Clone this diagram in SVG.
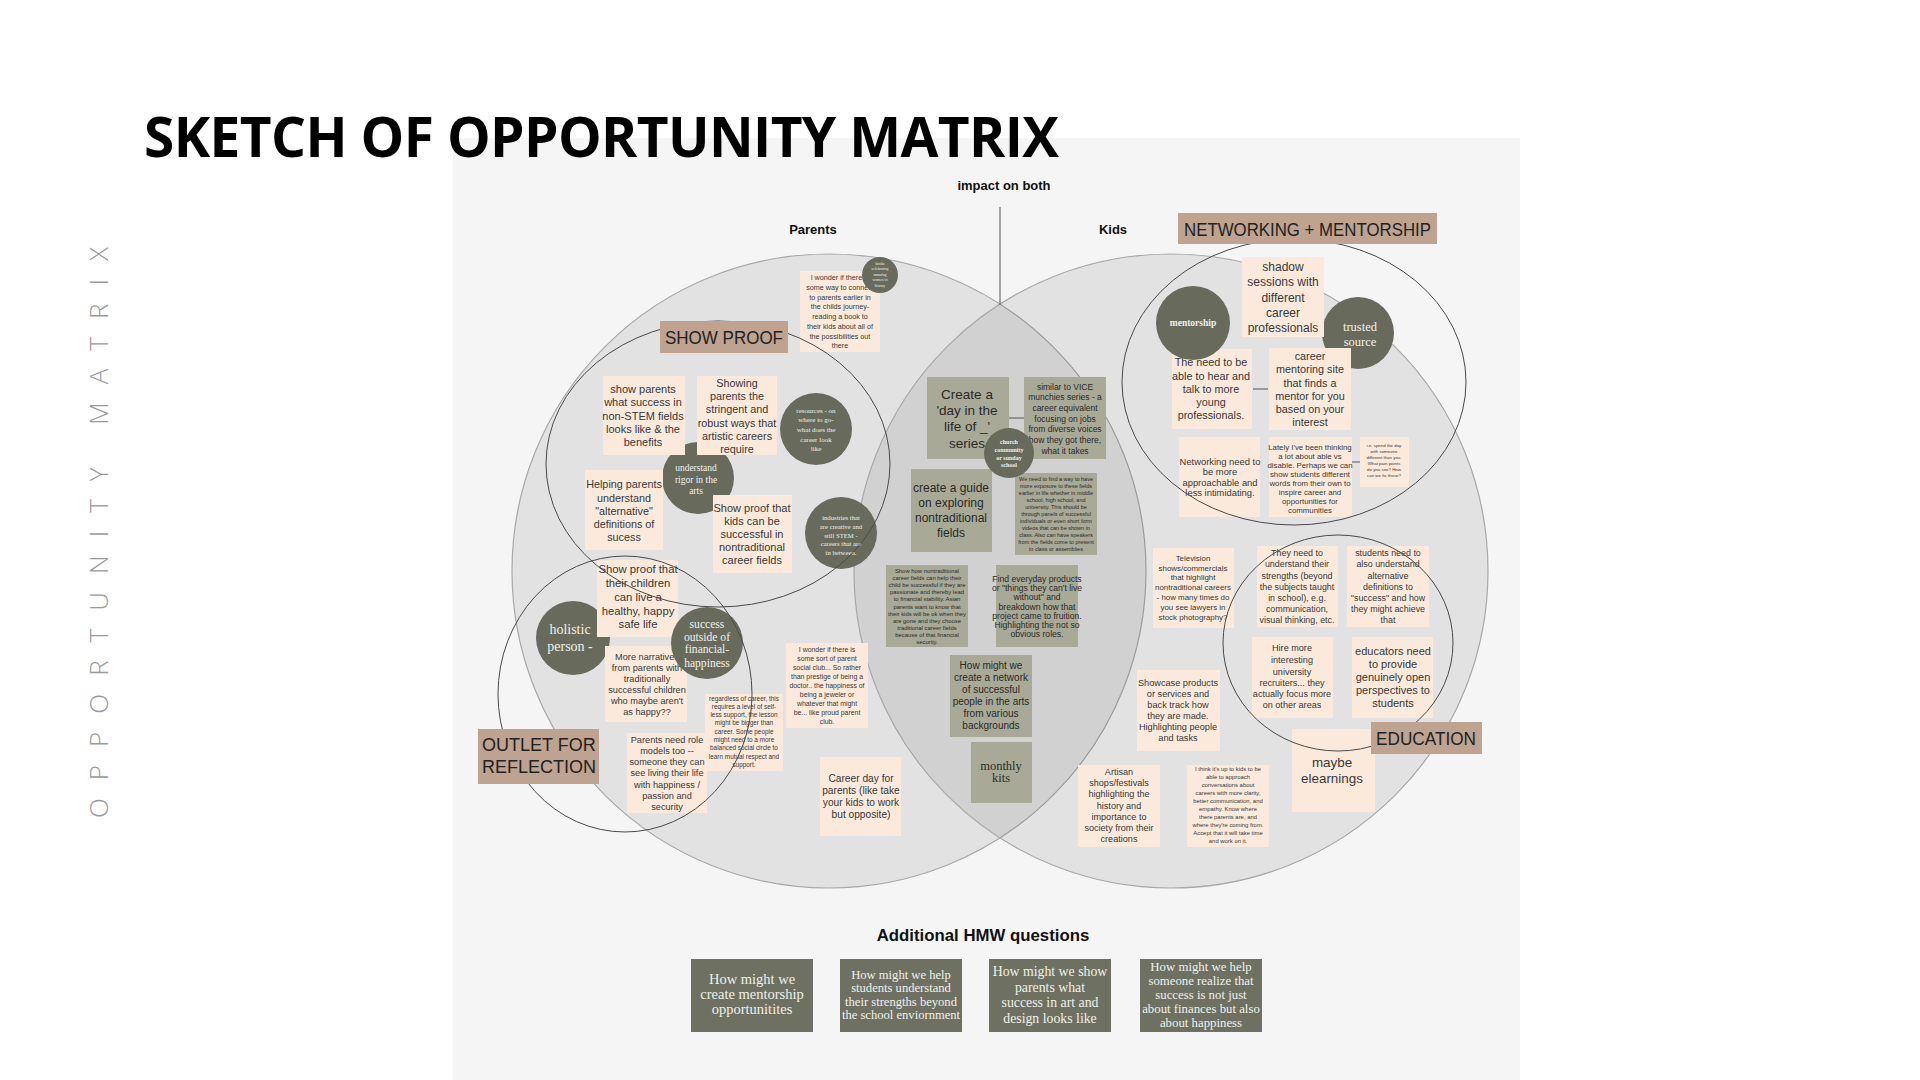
<svg xmlns="http://www.w3.org/2000/svg" width="1920" height="1080" viewBox="0 0 1920 1080">
<defs>
<style>
.bg{fill:#f5f5f5}
.venn{fill:#000;fill-opacity:0.075;stroke:#a8a8a8;stroke-width:1.2}
.ring{fill:none;stroke:#4a4a4a;stroke-width:1}
.cream{fill:#fbeadb}
.olive{fill:#a8a996}
.dot{fill:#686b5c}
.tag{fill:#bea390}
.hmw{fill:#6e7062}
.t{font-family:"Liberation Sans",Arial,sans-serif;fill:#383838;text-anchor:middle}
.to{font-family:"Liberation Sans",Arial,sans-serif;fill:#2a2a2a;text-anchor:middle}
.s{font-family:"Liberation Serif","DejaVu Serif",serif;fill:#f0f0ea;text-anchor:middle}
.lab{font-family:"Liberation Sans",Arial,sans-serif;fill:#222;font-size:18px}
.hd{font-family:"Liberation Sans",Arial,sans-serif;fill:#111;font-weight:bold;text-anchor:middle}
.conn{stroke:#555;stroke-width:1;fill:none}
</style>
</defs>
<rect width="1920" height="1080" fill="#ffffff"/>
<rect class="bg" x="453" y="138" width="1067" height="942"/>

<text x="144" y="157" font-family="'Open Sans','DejaVu Sans',sans-serif" font-weight="bold" font-size="55" fill="#000" textLength="915" lengthAdjust="spacing">SKETCH OF OPPORTUNITY MATRIX</text>
<text transform="translate(108,818) rotate(-90)" font-family="'Open Sans','DejaVu Sans',sans-serif" font-weight="300" font-size="26" fill="#9a9a9a" textLength="571" lengthAdjust="spacing">OPPORTUNITY MATRIX</text>

<g id="venn">
<circle class="venn" cx="829" cy="571" r="317"/>
<circle class="venn" cx="1171" cy="571" r="317"/>
</g>

<text class="hd" x="1004" y="190" font-size="13">impact on both</text>
<text class="hd" x="813" y="234" font-size="13">Parents</text>
<text class="hd" x="1113" y="234" font-size="13">Kids</text>

<!-- circles behind notes -->
<g id="c-rigor"><circle class="dot" cx="698" cy="478" r="36"/>
<text class="s" font-size="9.5"><tspan x="696" y="471">understand</tspan><tspan x="696" y="483">rigor in the</tspan><tspan x="696" y="494">arts</tspan></text></g>
<g id="c-holistic"><circle class="dot" cx="573" cy="638" r="37"/>
<text class="s" font-size="14"><tspan x="570" y="634">holistic</tspan><tspan x="570" y="651">person -</tspan></text></g>
<g id="c-trusted"><circle class="dot" cx="1358" cy="333" r="36"/>
<text class="s" font-size="12.5"><tspan x="1360" y="331">trusted</tspan><tspan x="1360" y="346">source</tspan></text></g>

<!-- Parents notes -->
<g id="n-wonder1"><rect class="cream" x="800" y="271" width="80" height="81"/>
<text class="t" font-size="7.2"><tspan x="840" y="280">I wonder if there is</tspan><tspan x="840" y="290">some way to connect</tspan><tspan x="840" y="300">to parents earlier in</tspan><tspan x="840" y="309">the childs journey-</tspan><tspan x="840" y="319">reading a book to</tspan><tspan x="840" y="329">their kids about all of</tspan><tspan x="840" y="339">the possibilities out</tspan><tspan x="840" y="348">there</tspan></text></g>
<g id="n-showparents"><rect class="cream" x="603" y="376" width="82" height="79"/>
<text class="t" font-size="11"><tspan x="643" y="393">show parents</tspan><tspan x="643" y="406">what success in</tspan><tspan x="643" y="420">non-STEM fields</tspan><tspan x="643" y="433">looks like &amp; the</tspan><tspan x="643" y="446">benefits</tspan></text></g>
<g id="n-showing"><rect class="cream" x="697" y="376" width="80" height="79"/>
<text class="t" font-size="10.8"><tspan x="737" y="387">Showing</tspan><tspan x="737" y="400">parents the</tspan><tspan x="737" y="413">stringent and</tspan><tspan x="737" y="427">robust ways that</tspan><tspan x="737" y="440">artistic careers</tspan><tspan x="737" y="453">require</tspan></text></g>
<g id="n-helping"><rect class="cream" x="585" y="470" width="78" height="80"/>
<text class="t" font-size="10.8"><tspan x="624" y="488">Helping parents</tspan><tspan x="624" y="502">understand</tspan><tspan x="624" y="515">"alternative"</tspan><tspan x="624" y="528">definitions of</tspan><tspan x="624" y="541">sucess</tspan></text></g>
<g id="n-proofkids"><rect class="cream" x="713" y="495" width="79" height="78"/>
<text class="t" font-size="11"><tspan x="752" y="512">Show proof that</tspan><tspan x="752" y="525">kids can be</tspan><tspan x="752" y="538">successful in</tspan><tspan x="752" y="551">nontraditional</tspan><tspan x="752" y="564">career fields</tspan></text></g>
<g id="n-proofchildren"><rect class="cream" x="597" y="560" width="81" height="77"/>
<text class="t" font-size="11.3"><tspan x="638" y="573">Show proof that</tspan><tspan x="638" y="587">their children</tspan><tspan x="638" y="601">can live a</tspan><tspan x="638" y="615">healthy, happy</tspan><tspan x="638" y="628">safe life</tspan></text></g>
<g id="n-narratives"><rect class="cream" x="605" y="646" width="82" height="76"/>
<text class="t" font-size="9.2"><tspan x="647" y="660">More narratives</tspan><tspan x="647" y="671">from parents with</tspan><tspan x="647" y="682">traditionally</tspan><tspan x="647" y="693">successful children</tspan><tspan x="647" y="704">who maybe aren't</tspan><tspan x="647" y="715">as happy??</tspan></text></g>
<g id="n-rolemodels"><rect class="cream" x="627" y="733" width="80" height="80"/>
<text class="t" font-size="9.2"><tspan x="667" y="743">Parents need role</tspan><tspan x="667" y="754">models too --</tspan><tspan x="667" y="765">someone they can</tspan><tspan x="667" y="776">see living their life</tspan><tspan x="667" y="788">with happiness /</tspan><tspan x="667" y="799">passion and</tspan><tspan x="667" y="810">security</tspan></text></g>
<g id="n-regardless"><rect class="cream" x="705" y="694" width="78" height="77"/>
<text class="t" font-size="6.4"><tspan x="744" y="701">regardless of career, this</tspan><tspan x="744" y="709">requires a level of self-</tspan><tspan x="744" y="717">less support, the lesson</tspan><tspan x="744" y="725">might be bigger than</tspan><tspan x="744" y="734">career. Some people</tspan><tspan x="744" y="742">might need to a more</tspan><tspan x="744" y="750">balanced social circle to</tspan><tspan x="744" y="759">learn mutual respect and</tspan><tspan x="744" y="767">support.</tspan></text></g>
<g id="n-wonder2"><rect class="cream" x="786" y="643" width="82" height="85"/>
<text class="t" font-size="6.9"><tspan x="827" y="652">I wonder if there is</tspan><tspan x="827" y="661">some sort of parent</tspan><tspan x="827" y="670">social club... So rather</tspan><tspan x="827" y="679">than prestige of being a</tspan><tspan x="827" y="688">doctor.. the happiness of</tspan><tspan x="827" y="697">being a jeweler or</tspan><tspan x="827" y="706">whatever that might</tspan><tspan x="827" y="715">be... like proud parent</tspan><tspan x="827" y="724">club.</tspan></text></g>
<g id="n-careerday"><rect class="cream" x="820" y="757" width="81" height="79"/>
<text class="t" font-size="10.2"><tspan x="861" y="782">Career day for</tspan><tspan x="861" y="794">parents (like take</tspan><tspan x="861" y="806">your kids to work</tspan><tspan x="861" y="818">but opposite)</tspan></text></g>

<!-- Center notes -->
<g id="n-dayinlife"><rect class="olive" x="927" y="377" width="82" height="82"/>
<text class="to" font-size="13.5"><tspan x="967" y="399">Create a</tspan><tspan x="967" y="415">'day in the</tspan><tspan x="967" y="431">life of _'</tspan><tspan x="967" y="448">series</tspan></text></g>
<g id="n-vice"><rect class="olive" x="1024" y="377" width="82" height="82"/>
<text class="to" font-size="8.5"><tspan x="1065" y="390">similar to VICE</tspan><tspan x="1065" y="400">munchies series - a</tspan><tspan x="1065" y="411">career equivalent</tspan><tspan x="1065" y="422">focusing on jobs</tspan><tspan x="1065" y="432">from diverse voices</tspan><tspan x="1065" y="443">how they got there,</tspan><tspan x="1065" y="454">what it takes</tspan></text></g>
<g id="n-guide"><rect class="olive" x="911" y="469" width="81" height="83"/>
<text class="to" font-size="12"><tspan x="951" y="492">create a guide</tspan><tspan x="951" y="507">on exploring</tspan><tspan x="951" y="522">nontraditional</tspan><tspan x="951" y="537">fields</tspan></text></g>
<g id="n-exposure"><rect class="olive" x="1015" y="473" width="82" height="82"/>
<text class="to" font-size="5.5"><tspan x="1056" y="481">We need to find a way to have</tspan><tspan x="1056" y="488">more exposure to these fields</tspan><tspan x="1056" y="495">earlier in life whether in middle</tspan><tspan x="1056" y="502">school, high school, and</tspan><tspan x="1056" y="509">university. This should be</tspan><tspan x="1056" y="516">through panels of successful</tspan><tspan x="1056" y="523">individuals or even short form</tspan><tspan x="1056" y="530">videos that can be shown in</tspan><tspan x="1056" y="537">class. Also can have speakers</tspan><tspan x="1056" y="544">from the fields come to present</tspan><tspan x="1056" y="551">in class or assemblies</tspan></text></g>
<g id="n-showhow"><rect class="olive" x="886" y="565" width="82" height="82"/>
<text class="to" font-size="5.9"><tspan x="927" y="573">Show how nontraditional</tspan><tspan x="927" y="580">career fields can help their</tspan><tspan x="927" y="587">child be successful if they are</tspan><tspan x="927" y="594">passionate and thereby lead</tspan><tspan x="927" y="601">to financial stability. Asian</tspan><tspan x="927" y="609">parents want to know that</tspan><tspan x="927" y="616">their kids will be ok when they</tspan><tspan x="927" y="623">are gone and they choose</tspan><tspan x="927" y="630">traditional career fields</tspan><tspan x="927" y="637">because of that financial</tspan><tspan x="927" y="644">security.</tspan></text></g>
<g id="n-everyday"><rect class="olive" x="996" y="565" width="82" height="82"/>
<text class="to" font-size="8.6"><tspan x="1037" y="582">Find everyday products</tspan><tspan x="1037" y="591">or "things they can't live</tspan><tspan x="1037" y="600">without" and</tspan><tspan x="1037" y="610">breakdown how that</tspan><tspan x="1037" y="619">project came to fruition.</tspan><tspan x="1037" y="628">Highlighting the not so</tspan><tspan x="1037" y="637">obvious roles.</tspan></text></g>
<g id="n-network"><rect class="olive" x="950" y="655" width="82" height="82"/>
<text class="to" font-size="10"><tspan x="991" y="669">How might we</tspan><tspan x="991" y="681">create a network</tspan><tspan x="991" y="693">of successful</tspan><tspan x="991" y="705">people in the arts</tspan><tspan x="991" y="717">from various</tspan><tspan x="991" y="729">backgrounds</tspan></text></g>
<g id="n-kits"><rect class="olive" x="971" y="742" width="61" height="61"/>
<text font-family="'Liberation Serif','DejaVu Serif',serif" font-size="12.5" fill="#2e2e2e" text-anchor="middle"><tspan x="1001" y="770">monthly</tspan><tspan x="1001" y="782">kits</tspan></text></g>

<!-- Kids notes -->
<g id="n-shadow"><rect class="cream" x="1242" y="257" width="82" height="80"/>
<text class="t" font-size="12"><tspan x="1283" y="271">shadow</tspan><tspan x="1283" y="286">sessions with</tspan><tspan x="1283" y="302">different</tspan><tspan x="1283" y="317">career</tspan><tspan x="1283" y="332">professionals</tspan></text></g>
<g id="n-theneed"><rect class="cream" x="1172" y="349" width="80" height="80"/>
<text class="t" font-size="10.8"><tspan x="1211" y="366">The need to be</tspan><tspan x="1211" y="380">able to hear and</tspan><tspan x="1211" y="393">talk to more</tspan><tspan x="1211" y="406">young</tspan><tspan x="1211" y="419">professionals.</tspan></text></g>
<g id="n-mentorsite"><rect class="cream" x="1269" y="348" width="82" height="82"/>
<text class="t" font-size="10.8"><tspan x="1310" y="360">career</tspan><tspan x="1310" y="373">mentoring site</tspan><tspan x="1310" y="387">that finds a</tspan><tspan x="1310" y="400">mentor for you</tspan><tspan x="1310" y="413">based on your</tspan><tspan x="1310" y="426">interest</tspan></text></g>
<g id="n-networking"><rect class="cream" x="1179" y="437" width="81" height="80"/>
<text class="t" font-size="9.4"><tspan x="1220" y="465">Networking need to</tspan><tspan x="1220" y="475">be more</tspan><tspan x="1220" y="486">approachable and</tspan><tspan x="1220" y="496">less intimidating.</tspan></text></g>
<g id="n-lately"><rect class="cream" x="1269" y="437" width="83" height="80"/>
<text class="t" font-size="7.8"><tspan x="1310" y="450">Lately I've been thinking</tspan><tspan x="1310" y="459">a lot about able vs</tspan><tspan x="1310" y="468">disable. Perhaps we can</tspan><tspan x="1310" y="477">show students different</tspan><tspan x="1310" y="486">words from their own to</tspan><tspan x="1310" y="495">inspire career and</tspan><tspan x="1310" y="504">opportunities for</tspan><tspan x="1310" y="513">communities</tspan></text></g>
<g id="n-ie"><rect class="cream" x="1360" y="437" width="49" height="50"/>
<text class="t" font-size="4.4"><tspan x="1384" y="447">i.e. spend the day</tspan><tspan x="1384" y="453">with someone</tspan><tspan x="1384" y="459">different than you.</tspan><tspan x="1384" y="465">What pain points</tspan><tspan x="1384" y="471">do you see? How</tspan><tspan x="1384" y="477">can we fix those?</tspan></text></g>
<g id="n-television"><rect class="cream" x="1153" y="548" width="81" height="80"/>
<text class="t" font-size="7.9"><tspan x="1193" y="561">Television</tspan><tspan x="1193" y="571">shows/commercials</tspan><tspan x="1193" y="580">that highlight</tspan><tspan x="1193" y="590">nontraditional careers</tspan><tspan x="1193" y="600">- how many times do</tspan><tspan x="1193" y="610">you see lawyers in</tspan><tspan x="1193" y="620">stock photography?</tspan></text></g>
<g id="n-strengths"><rect class="cream" x="1257" y="546" width="81" height="81"/>
<text class="t" font-size="8.9"><tspan x="1297" y="556">They need to</tspan><tspan x="1297" y="567">understand their</tspan><tspan x="1297" y="579">strengths (beyond</tspan><tspan x="1297" y="590">the subjects taught</tspan><tspan x="1297" y="601">in school), e.g.</tspan><tspan x="1297" y="612">communication,</tspan><tspan x="1297" y="623">visual thinking, etc.</tspan></text></g>
<g id="n-alternative"><rect class="cream" x="1347" y="546" width="82" height="81"/>
<text class="t" font-size="8.9"><tspan x="1388" y="556">students need to</tspan><tspan x="1388" y="567">also understand</tspan><tspan x="1388" y="579">alternative</tspan><tspan x="1388" y="590">definitions to</tspan><tspan x="1388" y="601">"success" and how</tspan><tspan x="1388" y="612">they might achieve</tspan><tspan x="1388" y="623">that</tspan></text></g>
<g id="n-recruiters"><rect class="cream" x="1252" y="637" width="81" height="81"/>
<text class="t" font-size="9.1"><tspan x="1292" y="651">Hire more</tspan><tspan x="1292" y="663">interesting</tspan><tspan x="1292" y="675">university</tspan><tspan x="1292" y="686">recruiters... they</tspan><tspan x="1292" y="697">actually focus more</tspan><tspan x="1292" y="708">on other areas</tspan></text></g>
<g id="n-educators"><rect class="cream" x="1352" y="637" width="81" height="81"/>
<text class="t" font-size="11"><tspan x="1393" y="655">educators need</tspan><tspan x="1393" y="668">to provide</tspan><tspan x="1393" y="681">genuinely open</tspan><tspan x="1393" y="694">perspectives to</tspan><tspan x="1393" y="707">students</tspan></text></g>
<g id="n-showcase"><rect class="cream" x="1137" y="670" width="83" height="81"/>
<text class="t" font-size="9.2"><tspan x="1178" y="686">Showcase products</tspan><tspan x="1178" y="697">or services and</tspan><tspan x="1178" y="708">back track how</tspan><tspan x="1178" y="719">they are made.</tspan><tspan x="1178" y="730">Highlighting people</tspan><tspan x="1178" y="741">and tasks</tspan></text></g>
<g id="n-artisan"><rect class="cream" x="1078" y="765" width="82" height="82"/>
<text class="t" font-size="9.1"><tspan x="1119" y="775">Artisan</tspan><tspan x="1119" y="786">shops/festivals</tspan><tspan x="1119" y="797">highlighting the</tspan><tspan x="1119" y="809">history and</tspan><tspan x="1119" y="820">importance to</tspan><tspan x="1119" y="831">society from their</tspan><tspan x="1119" y="842">creations</tspan></text></g>
<g id="n-ithink"><rect class="cream" x="1187" y="765" width="82" height="82"/>
<text class="t" font-size="5.9"><tspan x="1228" y="771">I think it's up to kids to be</tspan><tspan x="1228" y="779">able to approach</tspan><tspan x="1228" y="787">conversations about</tspan><tspan x="1228" y="795">careers with more clarity,</tspan><tspan x="1228" y="803">better communication, and</tspan><tspan x="1228" y="811">empathy. Know where</tspan><tspan x="1228" y="819">there parents are, and</tspan><tspan x="1228" y="827">where they're coming from.</tspan><tspan x="1228" y="835">Accept that it will take time</tspan><tspan x="1228" y="843">and work on it.</tspan></text></g>
<g id="n-elearnings"><rect class="cream" x="1292" y="729" width="83" height="83"/>
<text class="t" font-size="13.4"><tspan x="1332" y="767">maybe</tspan><tspan x="1332" y="783">elearnings</tspan></text></g>

<!-- circles in front of notes -->
<g id="c-books"><circle class="dot" cx="880" cy="275" r="18"/>
<text class="s" font-size="3.8"><tspan x="880" y="265">books</tspan><tspan x="880" y="270">celebrating</tspan><tspan x="880" y="275.5">amazing</tspan><tspan x="880" y="281">women in</tspan><tspan x="880" y="286.5">history</tspan></text></g>
<g id="c-resources"><circle class="dot" cx="816" cy="429" r="36"/>
<text class="s" font-size="7"><tspan x="816" y="412.5">resources - on</tspan><tspan x="816" y="421.5">where to go-</tspan><tspan x="816" y="431.5">what does the</tspan><tspan x="816" y="441.5">career look</tspan><tspan x="816" y="450.5">like</tspan></text></g>
<g id="c-industries"><circle class="dot" cx="841" cy="533" r="36"/>
<text class="s" font-size="6.7"><tspan x="841" y="519.5">industries that</tspan><tspan x="841" y="528.5">are creative and</tspan><tspan x="841" y="537.5">still STEM -</tspan><tspan x="841" y="546">careers that are</tspan><tspan x="841" y="555">in between.</tspan></text></g>
<g id="c-success"><circle class="dot" cx="707" cy="643" r="36"/>
<text class="s" font-size="11.6"><tspan x="707" y="628">success</tspan><tspan x="707" y="641">outside of</tspan><tspan x="707" y="653">financial-</tspan><tspan x="707" y="667">happiness</tspan></text></g>
<g id="c-church"><circle class="dot" cx="1009" cy="453" r="25"/>
<text class="s" font-size="6" font-weight="bold"><tspan x="1009" y="444">church</tspan><tspan x="1009" y="451.5">community</tspan><tspan x="1009" y="460">or sunday</tspan><tspan x="1009" y="467">school</tspan></text></g>
<g id="c-mentorship"><circle class="dot" cx="1193" cy="323" r="37"/>
<text class="s" font-size="9.5" font-weight="bold"><tspan x="1193" y="326">mentorship</tspan></text></g>

<!-- category rings -->
<g id="rings">
<ellipse class="ring" cx="718" cy="464" rx="172" ry="143"/>
<ellipse class="ring" cx="625" cy="694" rx="127" ry="138"/>
<ellipse class="ring" cx="1294" cy="382" rx="172" ry="143"/>
<ellipse class="ring" cx="1338" cy="643" rx="115" ry="108"/>
</g>

<!-- category labels -->
<g id="l-network"><rect class="tag" x="1178" y="213" width="259" height="31"/>
<text class="lab" x="1184" y="236" textLength="247" lengthAdjust="spacingAndGlyphs">NETWORKING + MENTORSHIP</text></g>
<g id="l-showproof"><rect class="tag" x="660" y="321" width="128" height="32"/>
<text class="lab" x="665" y="344" textLength="118" lengthAdjust="spacingAndGlyphs">SHOW PROOF</text></g>
<g id="l-outlet"><rect class="tag" x="478" y="729" width="121" height="55"/>
<text class="lab"><tspan x="482" y="751">OUTLET FOR</tspan><tspan x="482" y="773">REFLECTION</tspan></text></g>
<g id="l-education"><rect class="tag" x="1371" y="722" width="111" height="32"/>
<text class="lab" x="1376" y="745" textLength="100" lengthAdjust="spacingAndGlyphs">EDUCATION</text></g>

<!-- connectors -->
<g id="connectors">
<line class="conn" x1="1000" y1="207" x2="1000" y2="305"/>
<line class="conn" x1="1009" y1="418" x2="1024" y2="418"/>
<line class="conn" x1="1253" y1="389" x2="1268" y2="389"/>
<line class="conn" x1="1352" y1="462" x2="1360" y2="462"/>
</g>

<!-- HMW -->
<text class="hd" x="983" y="941" font-size="16.8">Additional HMW questions</text>
<g id="hmw1"><rect class="hmw" x="691" y="959" width="122" height="73"/>
<text class="s" font-size="14.5"><tspan x="752" y="984">How might we</tspan><tspan x="752" y="999">create mentorship</tspan><tspan x="752" y="1014">opportunitites</tspan></text></g>
<g id="hmw2"><rect class="hmw" x="840" y="959" width="122" height="73"/>
<text class="s" font-size="12.6"><tspan x="901" y="979">How might we help</tspan><tspan x="901" y="992">students understand</tspan><tspan x="901" y="1006">their strengths beyond</tspan><tspan x="901" y="1019">the school enviornment</tspan></text></g>
<g id="hmw3"><rect class="hmw" x="989" y="959" width="122" height="73"/>
<text class="s" font-size="13.8"><tspan x="1050" y="976">How might we show</tspan><tspan x="1050" y="992">parents what</tspan><tspan x="1050" y="1007">success in art and</tspan><tspan x="1050" y="1023">design looks like</tspan></text></g>
<g id="hmw4"><rect class="hmw" x="1140" y="959" width="122" height="73"/>
<text class="s" font-size="12.8"><tspan x="1201" y="971">How might we help</tspan><tspan x="1201" y="985">someone realize that</tspan><tspan x="1201" y="999">success is not just</tspan><tspan x="1201" y="1013">about finances but also</tspan><tspan x="1201" y="1027">about happiness</tspan></text></g>
</svg>
